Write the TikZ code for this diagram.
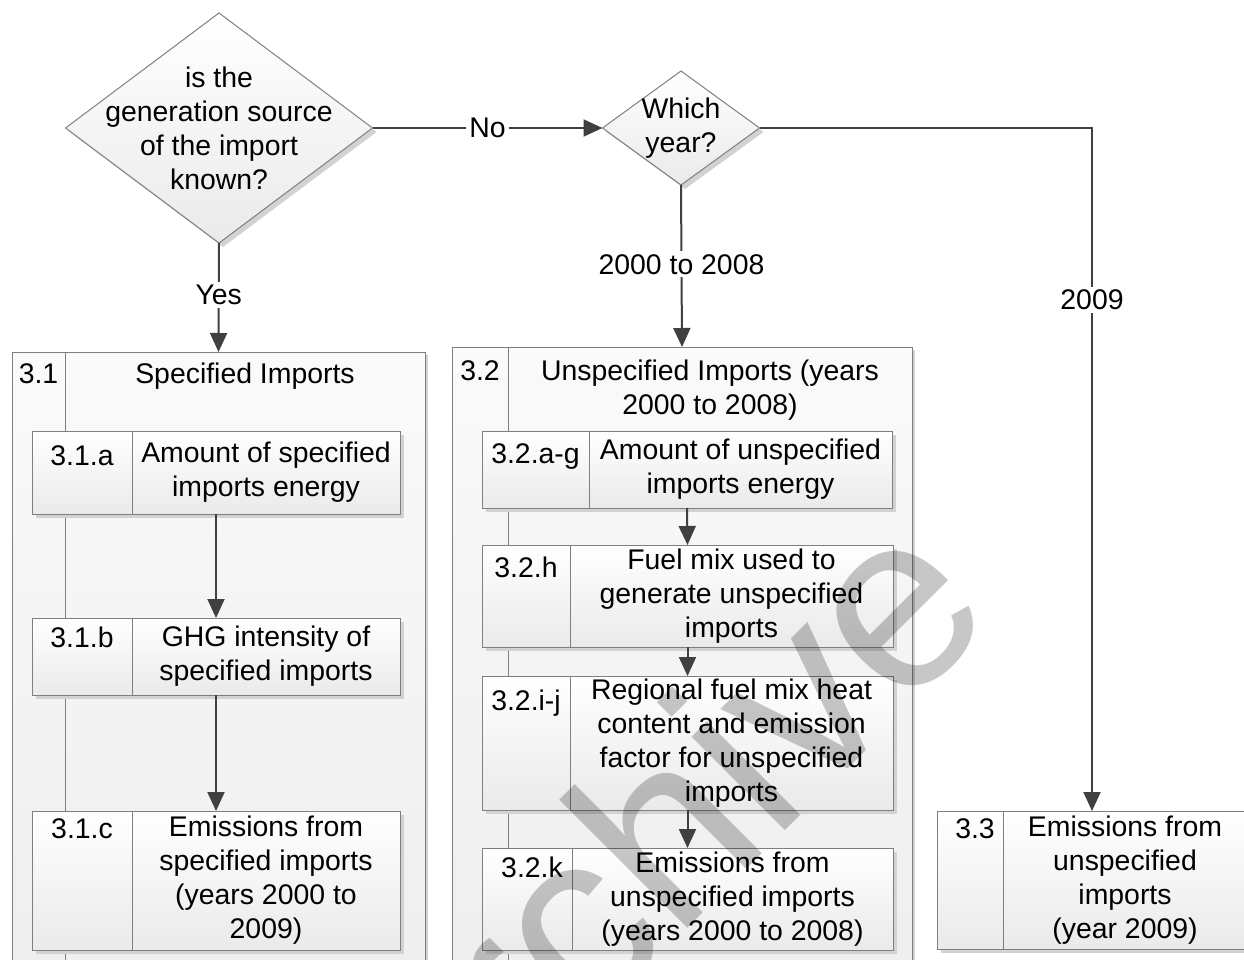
\documentclass[tikz,border=0pt]{standalone}
\usepackage{fontspec}
\setmainfont{Liberation Sans}
\usetikzlibrary{shapes.geometric,arrows.meta,shadows}
\definecolor{linec}{HTML}{404040}
\definecolor{bordc}{HTML}{7F7F7F}
\definecolor{fillb}{HTML}{EAEAEA}
\definecolor{lanetop}{HTML}{FAFAFA}
\definecolor{lanebot}{HTML}{EEEEEE}
\definecolor{shad}{HTML}{D2D2D2}
\begin{document}
\begin{tikzpicture}[x=1pt,y=-1pt,
  txt/.style={font=\fontsize{28.4}{34}\selectfont, align=center, inner sep=0pt},
  lbl/.style={txt, fill=white, inner sep=3pt},
  decision/.style={diamond, draw=bordc, line width=1pt, top color=white, bottom color=fillb,
    inner sep=0pt, outer sep=0pt,
    drop shadow={shadow xshift=4pt, shadow yshift=-4pt, fill=shad, opacity=1}},
  lane/.style={rectangle, draw=bordc, line width=1pt, top color=lanetop, bottom color=lanebot,
    inner sep=0pt, outer sep=0pt,
    drop shadow={shadow xshift=3pt, shadow yshift=-3pt, fill=shad, opacity=1}},
  procbox/.style={rectangle, draw=bordc, line width=1pt, top color=white, bottom color=fillb,
    inner sep=0pt, outer sep=0pt,
    drop shadow={shadow xshift=4pt, shadow yshift=-4pt, fill=shad, opacity=1}},
  divider/.style={draw=bordc, line width=1pt},
  arr/.style={draw=linec, line width=2pt, -{Triangle[length=19pt,width=17pt]}},
  watermark/.style={font=\fontsize{250}{250}\selectfont, text=black, text opacity=0.22, inner sep=0pt}
]
\useasboundingbox (0,0) rectangle (1244,960);
\clip (0,0) rectangle (1244,960);

% lanes
\node[lane, minimum width=413pt, minimum height=638pt] (lane1) at (218.5,671) {};
\node[lane, minimum width=460pt, minimum height=643pt] (lane2) at (682,668.5) {};
\draw[divider] (65,352) -- (65,990);
\draw[divider] (508,347) -- (508,990);
\node[txt, anchor=base] (l31) at (38.5,383) {3.1};
\node[txt, anchor=base] (l31t) at (245,383) {Specified Imports};
\node[txt, anchor=base] (l32) at (480,380) {3.2};
\node[txt] (l32t) at (710,390) {Unspecified Imports (years\\2000 to 2008)};

% decisions
\node[decision, minimum width=307pt, minimum height=230pt] (d1) at (219,128) {};
\node[txt] (d1t) at (d1.center) {is the\\generation source\\of the import\\known?};
\node[decision, minimum width=157pt, minimum height=114pt] (d2) at (681,128) {};
\node[txt] (d2t) at (d2.center) {Which\\year?};

% 3.1 boxes
\node[procbox, minimum width=368pt, minimum height=83pt] (a31) at (216,472.5) {};
\node[procbox, minimum width=368pt, minimum height=77pt] (b31) at (216,656.5) {};
\node[procbox, minimum width=368pt, minimum height=139pt] (c31) at (216,880.5) {};
\draw[divider] (132,431) -- (132,514);
\draw[divider] (132,618) -- (132,695);
\draw[divider] (132,811) -- (132,950);
\node[txt, anchor=base] (a31l) at (82,465) {3.1.a};
\node[txt] (a31t) at (266,472.5) {Amount of specified\\imports energy};
\node[txt, anchor=base] (b31l) at (82,647) {3.1.b};
\node[txt] (b31t) at (266,656.5) {GHG intensity of\\specified imports};
\node[txt, anchor=base] (c31l) at (82,838) {3.1.c};
\node[txt] (c31t) at (266,880.5) {Emissions from\\specified imports\\(years 2000 to\\2009)};

% 3.2 boxes
\node[procbox, minimum width=410pt, minimum height=77pt] (a32) at (687,469.5) {};
\node[procbox, minimum width=411pt, minimum height=102pt] (h32) at (687.5,596) {};
\node[procbox, minimum width=411pt, minimum height=134pt] (ij32) at (687.5,743) {};
\node[procbox, minimum width=411pt, minimum height=102pt] (k32) at (687.5,899) {};
\draw[divider] (589,431) -- (589,508);
\draw[divider] (570,545) -- (570,647);
\draw[divider] (570,676) -- (570,810);
\draw[divider] (572,848) -- (572,950);
\node[txt, anchor=base] (a32l) at (535.5,463) {3.2.a-g};
\node[txt] (a32t) at (740.5,469.5) {Amount of unspecified\\imports energy};
\node[txt, anchor=base] (h32l) at (526,577) {3.2.h};
\node[txt] (h32t) at (731.5,596) {Fuel mix used to\\generate unspecified\\imports};
\node[txt, anchor=base] (ij32l) at (526,710) {3.2.i-j};
\node[txt] (ij32t) at (731.5,743) {Regional fuel mix heat\\content and emission\\factor for unspecified\\imports};
\node[txt, anchor=base] (k32l) at (532,877) {3.2.k};
\node[txt] (k32t) at (732.5,899) {Emissions from\\unspecified imports\\(years 2000 to 2008)};

% 3.3 box
\node[procbox, minimum width=310pt, minimum height=138pt] (b33) at (1092,880) {};
\draw[divider] (1003,811) -- (1003,949);
\node[txt, anchor=base] (b33l) at (975,838) {3.3};
\node[txt] (b33t) at (1125,880) {Emissions from\\unspecified\\imports\\(year 2009)};

% connectors
\draw[arr] (d1.east) -- node[lbl] {No} (d2.west);
\draw[arr] (d1.south) -- node[lbl, pos=0.48] {Yes} (lane1.north);
\draw[arr] (d2.south) -- node[lbl, pos=0.49] {2000 to 2008} (lane2.north);
\draw[arr] (d2.east) -| node[lbl, pos=0.626] {2009} (b33.north);
\draw[arr] (a31.south) -- (b31.north);
\draw[arr] (b31.south) -- (c31.north);
\draw[arr] (a32.south) -- (h32.north);
\draw[arr] (h32.south) -- (ij32.north);
\draw[arr] (ij32.south) -- (k32.north);

% watermark
\node[watermark, rotate=45] (wm) at (642,848) {Archive};
\end{tikzpicture}
\end{document}
